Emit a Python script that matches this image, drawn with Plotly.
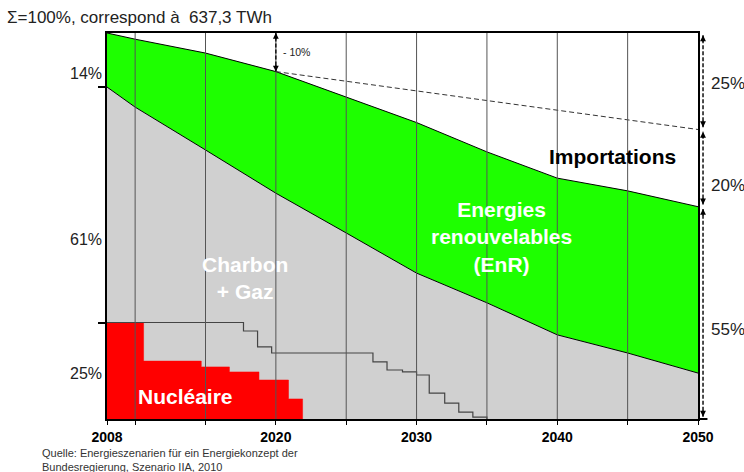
import plotly.graph_objects as go

# ---- data (shares of 2008 electricity demand, %) ----
years = [2008, 2010, 2015, 2020, 2025, 2030, 2035, 2040, 2045, 2050]
# domestic generation (top of the renewables band)
total_share = [100, 98.4, 94.8, 90, 83.4, 76.8, 69.2, 62.4, 59.1, 55]
# nuclear + coal + gas (top of the grey band)
fossil_top = [86, 80.8, 69.7, 58.5, 48.2, 37.8, 30.1, 21.8, 17.1, 11.9]

# demand path after 2020
demand_years = [2020, 2050]
demand_share = [90, 75]

# nuclear phase-out (2011 decision), step levels
nuc_years = [2008, 2010.6, 2014.7, 2016.7, 2018.8, 2020.9, 2021.9]
nuc_share = [25, 15.0, 13.5, 12.2, 10.1, 5.2, 0]

# earlier phase-out schedule (lifetime extension)
old_nuc_years = [2008, 2017.7, 2018.7, 2019.7, 2026.9, 2027.9, 2029.0,
                 2030.0, 2030.9, 2032.0, 2033.0, 2034.0, 2035.0]
old_nuc_share = [25, 22.8, 18.7, 17.1, 14.8, 12.7, 12.2,
                 11.4, 6.7, 4.1, 1.8, 0.5, 0]

grid_years = [2010, 2015, 2020, 2025, 2030, 2035, 2040, 2045]
label_years = [2008, 2020, 2030, 2040, 2050]

GREEN = "#1EFF00"
GREY = "#D0D0D0"
RED = "#FF0000"
FONT = "Liberation Sans, Arial, sans-serif"

fig = go.Figure()

# grey band: coal + gas (+ nuclear underneath)
fig.add_trace(go.Scatter(
    x=years, y=fossil_top, mode="lines", fill="tozeroy",
    fillcolor=GREY, line=dict(color="#000000", width=1), hoverinfo="skip"))
# green band: renewables
fig.add_trace(go.Scatter(
    x=years, y=total_share, mode="lines", fill="tonexty",
    fillcolor=GREEN, line=dict(color="#000000", width=1), hoverinfo="skip"))
# red steps: nuclear
fig.add_trace(go.Scatter(
    x=nuc_years, y=nuc_share, mode="lines", line_shape="hv", fill="tozeroy",
    fillcolor=RED, line=dict(color=RED, width=0.5), hoverinfo="skip"))
# earlier nuclear schedule
fig.add_trace(go.Scatter(
    x=old_nuc_years, y=old_nuc_share, mode="lines", line_shape="hv",
    line=dict(color="#444444", width=1.2), hoverinfo="skip"))
# demand path (dashed)
fig.add_trace(go.Scatter(
    x=demand_years, y=demand_share, mode="lines",
    line=dict(color="#333333", width=1, dash="5px,3px"), hoverinfo="skip"))

shapes = []
# vertical grid lines drawn over the bands
for g in grid_years:
    shapes.append(dict(type="line", xref="x", yref="y", x0=g, x1=g, y0=0, y1=100,
                       line=dict(color="#555555", width=1), layer="above"))
# x axis line runs a little past the right frame
shapes.append(dict(type="line", xref="paper", yref="paper", x0=1, x1=1.016, y0=0, y1=0,
                   line=dict(color="#000000", width=2), layer="above"))

annotations = []

def dashed_arrow(xref, x, lo, hi, width=1.4):
    shapes.append(dict(type="line", xref=xref, yref="y", x0=x, x1=x, y0=lo, y1=hi,
                       line=dict(color="#000000", width=width, dash="4px,2px"),
                       layer="above"))
    for y, ay in ((hi, 8), (lo, -8)):
        annotations.append(dict(xref=xref, yref="y", x=x, y=y, ax=0, ay=ay,
                                text="", showarrow=True, arrowhead=2,
                                arrowsize=0.9, arrowwidth=1.3,
                                arrowcolor="#000000", standoff=0))

# -10 % between 2008 demand and 2020 generation
i2020 = years.index(2020)
dashed_arrow("x", 2020, total_share[i2020], 100, width=1.3)
annotations.append(dict(xref="x", yref="y", x=2020.35, y=(100 + total_share[i2020]) / 2,
                        text=f"- {100 - total_share[i2020]:g}%", showarrow=False,
                        xanchor="left", yanchor="middle",
                        font=dict(family=FONT, size=10.5, color="#222222")))

# right-hand brackets for 2050
levels = [100, demand_share[-1], total_share[-1], 0]
label_pos = [0.870, 0.606, 0.231]
xb = 1.0085
for k in range(3):
    hi, lo = levels[k], levels[k + 1]
    dashed_arrow("paper", xb, lo + 0.6, hi - 0.6)
    annotations.append(dict(xref="paper", yref="paper", x=1.0185, y=label_pos[k],
                            text=f"{hi - lo:g}%", showarrow=False,
                            xanchor="left", yanchor="middle",
                            font=dict(family=FONT, size=17, color="#222222")))

# left-hand shares for 2008
left_vals = [100 - fossil_top[0], fossil_top[0] - nuc_share[0], nuc_share[0]]
left_pos = [0.894, 0.464, 0.117]
for v, p in zip(left_vals, left_pos):
    annotations.append(dict(xref="paper", yref="paper", x=-0.005, y=p,
                            text=f"{v:g}%", showarrow=False,
                            xanchor="right", yanchor="middle",
                            font=dict(family=FONT, size=16, color="#222222")))

# band labels
def band_label(text, x, y, color="#FFFFFF"):
    annotations.append(dict(xref="paper", yref="paper", x=x, y=y, text=text,
                            showarrow=False, xanchor="center", yanchor="middle",
                            align="center",
                            font=dict(family=FONT, size=21, color=color)))

band_label("<b>Importations</b>", 0.8545, 0.679, color="#000000")
band_label("<b>Energies<br>renouvelables<br>(EnR)</b>", 0.668, 0.4715)
band_label("<b>Charbon<br>+ Gaz</b>", 0.2335, 0.364)
band_label("<b>Nucléaire</b>", 0.132, 0.057)

# title and source
annotations.append(dict(xref="paper", yref="paper", x=-0.1726, y=1.039,
                        text="Σ=100%, correspond à  637,3 TWh", showarrow=False,
                        xanchor="left", yanchor="middle",
                        font=dict(family=FONT, size=17, color="#222222")))
annotations.append(dict(xref="paper", yref="paper", x=-0.1134, y=-0.068,
                        text="Quelle: Energieszenarien für ein Energiekonzept der<br>"
                             "Bundesregierung, Szenario IIA, 2010",
                        showarrow=False, xanchor="left", yanchor="top", align="left",
                        font=dict(family=FONT, size=11, color="#333333")))

tickvals = sorted(set(grid_years + label_years))
ticktext = [f"<b>{t}</b>" if t in label_years else "" for t in tickvals]

fig.update_layout(
    width=744, height=472,
    margin=dict(l=107, r=46, t=33, b=53),
    paper_bgcolor="#FFFFFF", plot_bgcolor="#FFFFFF",
    showlegend=False,
    shapes=shapes, annotations=annotations,
    xaxis=dict(range=[2008, 2050], tickvals=tickvals, ticktext=ticktext,
               ticks="outside", ticklen=4, tickcolor="#000000",
               showgrid=False, zeroline=False,
               showline=True, linecolor="#000000", linewidth=2, mirror=True,
               tickfont=dict(family=FONT, size=14, color="#000000")),
    yaxis=dict(range=[0, 100], tickvals=[nuc_share[0], fossil_top[0]],
               showticklabels=False, ticks="outside", ticklen=7,
               tickcolor="#000000", tickwidth=1.5,
               showgrid=False, zeroline=False,
               showline=True, linecolor="#000000", linewidth=2, mirror=True),
)

fig.write_html("out.html")
